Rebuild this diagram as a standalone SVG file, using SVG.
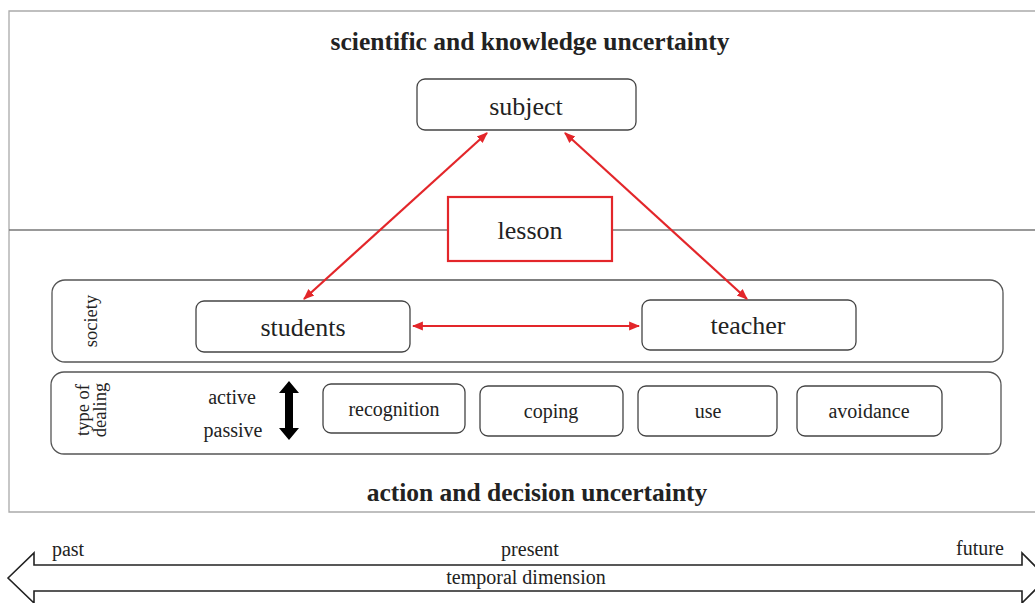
<svg xmlns="http://www.w3.org/2000/svg" width="1035" height="603" viewBox="0 0 1035 603">
<style>
.t{font-family:"Liberation Serif",serif;fill:#222;text-anchor:middle}
.b{font-weight:bold;font-size:25.5px}
.big{font-size:26px}
.sm{font-size:20px}
.box{fill:#fff;stroke:#444;stroke-width:1.3}
.row{fill:none;stroke:#555;stroke-width:1.3}
.red{stroke:#e3262a;stroke-width:2.2;fill:none;marker-start:url(#ah);marker-end:url(#ah)}
</style>
<defs>
<marker id="ah" viewBox="0 0 10 10" refX="9" refY="5" markerWidth="5" markerHeight="5" orient="auto-start-reverse" markerUnits="strokeWidth">
<path d="M0,1 L10,5 L0,9 z" fill="#e3262a"/>
</marker>
</defs>
<rect width="1035" height="603" fill="#fff"/>
<g id="frame">
<path d="M1035,11 H9 V512 H1035" fill="none" stroke="#aaa" stroke-width="1.3"/>
<line x1="9" y1="230" x2="1035" y2="230" stroke="#777" stroke-width="1.5"/>
<text class="t b" x="530" y="50">scientific and knowledge uncertainty</text>
<text class="t b" x="537" y="501">action and decision uncertainty</text>
</g>
<g id="subject"><rect class="box" x="417" y="79" width="219" height="51" rx="8"/><text class="t big" x="526" y="115">subject</text></g>
<g id="lesson"><rect x="448" y="197" width="164" height="64" fill="#fff" stroke="#e3262a" stroke-width="2.2"/><text class="t big" x="530" y="239">lesson</text></g>
<g id="society">
<rect class="row" x="52" y="280" width="951" height="82" rx="13"/>
<text class="t" font-size="18.5" transform="translate(97,321) rotate(-90)">society</text>
</g>
<g id="students"><rect class="box" x="196" y="301" width="214" height="51" rx="8"/><text class="t big" x="303" y="336">students</text></g>
<g id="teacher"><rect class="box" x="642" y="300" width="214" height="50" rx="8"/><text class="t big" x="748" y="334">teacher</text></g>
<g id="dealing">
<rect class="row" x="51" y="372" width="950" height="82" rx="13"/>
<text class="t" font-size="18.5" transform="translate(89,410) rotate(-90)">type of</text>
<text class="t" font-size="18.5" transform="translate(106,410) rotate(-90)">dealing</text>
<text class="t sm" x="232" y="404">active</text>
<text class="t sm" x="233" y="437">passive</text>
<path d="M289,381 L299,393 L293,393 L293,428 L299,428 L289,440 L279,428 L285,428 L285,393 L279,393 Z" fill="#000"/>
</g>
<g id="recognition"><rect class="box" x="323" y="384" width="142" height="49" rx="8"/><text class="t sm" x="394" y="416">recognition</text></g>
<g id="coping"><rect class="box" x="480" y="386" width="143" height="50" rx="8"/><text class="t sm" x="551" y="418">coping</text></g>
<g id="use"><rect class="box" x="638" y="386" width="139" height="50" rx="8"/><text class="t sm" x="708" y="418">use</text></g>
<g id="avoidance"><rect class="box" x="797" y="386" width="145" height="50" rx="8"/><text class="t sm" x="869" y="418">avoidance</text></g>
<g id="connectors">
<line class="red" x1="487" y1="133" x2="304" y2="299"/>
<line class="red" x1="565" y1="133" x2="747" y2="299"/>
<line class="red" x1="413" y1="326" x2="639" y2="326"/>
</g>
<g id="timeline">
<path d="M8,578 L34,553 L34,565 L1022,565 L1022,553 L1047,578 L1022,603 L1022,591 L34,591 L34,603 Z" fill="#fff" stroke="#222" stroke-width="1.6"/>
<text class="t sm" x="68" y="556">past</text>
<text class="t sm" x="530" y="556">present</text>
<text class="t sm" x="980" y="555">future</text>
<text class="t sm" x="526" y="584">temporal dimension</text>
</g>
</svg>
